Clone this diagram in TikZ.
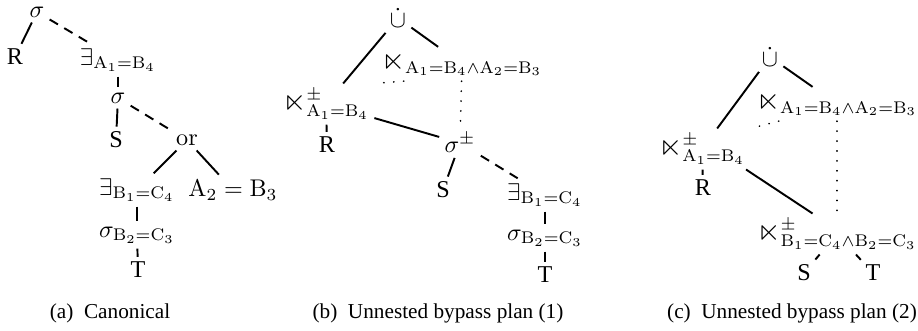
\documentclass[tikz,border=0pt]{standalone}
\usepackage{amsmath}
\usepackage{amssymb}
\usepackage{graphicx}
\usepackage[no-math]{fontspec}
\setmainfont{Liberation Serif}
\usepackage{tikz}
\usetikzlibrary{positioning, calc}
\tikzset{
  opnode/.style={inner sep=2pt, font=\normalsize},
  relnode/.style={inner sep=2pt, font=\normalsize},
  capnode/.style={inner sep=0pt, font=\fontsize{8.8}{10}\selectfont},
  treeedge/.style={thick, color=black},
  dashedge/.style={thick, dash pattern=on 4pt off 3pt},
  dotedge/.style={line width=0.7pt, dash pattern=on 0.1pt off 4pt, line cap=round}
}
\newcommand{\ra}[1]{\mathrm{#1}}
\newcommand{\sjoin}{\mathord{\scalebox{1.25}{$\ltimes$}}}

\begin{document}
\begin{tikzpicture}[x=0.414pt, y=-0.414pt]
  \useasboundingbox (0,0) rectangle (918,331);
  % (a) Canonical
  \node[opnode] (sa) at (37,12) {$\sigma$};
  \node[relnode] (ra) at (15,57) {R};
  \node[opnode] (exa) at (118,60) {$\exists_{\ra{A}_1=\ra{B}_4}$};
  \node[opnode] (sa2) at (118,98) {$\sigma$};
  \node[relnode] (Sa) at (116,140) {S};
  \node[opnode] (ora) at (187,140) {$\mathrm{or}$};
  \node[opnode] (exb) at (137,190) {$\exists_{\ra{B}_1=\ra{C}_4}$};
  \node[opnode] (eqa) at (233,190) {$\ra{A}_2=\ra{B}_3$};
  \node[opnode] (sb) at (137,235) {$\sigma_{\ra{B}_2=\ra{C}_3}$};
  \node[relnode] (Ta) at (138,270) {T};
  \draw[treeedge] (sa) -- (ra);
  \draw[dashedge] (sa) -- (exa);
  \draw[treeedge] (exa) -- (sa2);
  \draw[treeedge] (sa2) -- (Sa);
  \draw[dashedge] (sa2) -- (ora);
  \draw[treeedge] (ora) -- (exb);
  \draw[treeedge] (ora) -- (eqa);
  \draw[treeedge] (exb) -- (sb);
  \draw[treeedge] (sb) -- (Ta);
  \node[capnode] (capa) at (110,313) {(a)\enspace Canonical};

  % (b) Unnested bypass plan (1)
  \node[opnode] (cupb) at (398,18) {$\dot\cup$};
  \node[opnode] (sjb) at (462,64) {$\sjoin_{\ra{A}_1=\ra{B}_4\wedge\ra{A}_2=\ra{B}_3}$};
  \node[opnode] (sjpb) at (326,104) {$\sjoin^{\pm}_{\ra{A}_1=\ra{B}_4}$};
  \node[relnode] (Rb) at (327,145) {R};
  \node[opnode] (sgb) at (460,143) {$\sigma^{\pm}$};
  \node[relnode] (Sb) at (443,190) {S};
  \node[opnode] (exbb) at (545,195) {$\exists_{\ra{B}_1=\ra{C}_4}$};
  \node[opnode] (sbb) at (545,238) {$\sigma_{\ra{B}_2=\ra{C}_3}$};
  \node[relnode] (Tb) at (545,275) {T};
  \draw[treeedge] (cupb) -- (sjpb);
  \draw[treeedge] (cupb) -- (sjb);
  \draw[dotedge] ($(sjb.south west)!0.16!(sjb.south east)$) -- (sjpb.north east);
  \draw[dotedge] (sjb) -- (sgb);
  \draw[treeedge] (sjpb) -- (sgb);
  \draw[treeedge] (sjpb) -- (Rb);
  \draw[treeedge] (sgb) -- (Sb);
  \draw[dashedge] (sgb) -- (exbb);
  \draw[treeedge] (exbb) -- (sbb);
  \draw[treeedge] (sbb) -- (Tb);
  \node[capnode] (capb) at (438,313) {(b)\enspace Unnested bypass plan (1)};

  % (c) Unnested bypass plan (2)
  \node[opnode] (cupc) at (770,57) {$\dot\cup$};
  \node[opnode] (sjc) at (837,104) {$\sjoin_{\ra{A}_1=\ra{B}_4\wedge\ra{A}_2=\ra{B}_3}$};
  \node[opnode] (sjpc) at (702,149) {$\sjoin^{\pm}_{\ra{A}_1=\ra{B}_4}$};
  \node[relnode] (Rc) at (703,188) {R};
  \node[opnode] (sjbc) at (837,234) {$\sjoin^{\pm}_{\ra{B}_1=\ra{C}_4\wedge\ra{B}_2=\ra{C}_3}$};
  \node[relnode] (Sc) at (804,273) {S};
  \node[relnode] (Tc) at (873,273) {T};
  \draw[treeedge] (cupc) -- (sjpc);
  \draw[treeedge] (cupc) -- (sjc);
  \draw[dotedge] ($(sjc.south west)!0.16!(sjc.south east)$) -- (sjpc.north east);
  \draw[dotedge] (sjc) -- (sjbc);
  \draw[treeedge] (sjpc.-25) -- (sjbc.140);
  \draw[treeedge] (sjpc) -- (Rc);
  \draw[treeedge] (sjbc) -- (Sc);
  \draw[treeedge] (sjbc) -- (Tc);
  \node[capnode] (capc) at (792,313) {(c)\enspace Unnested bypass plan (2)};
\end{tikzpicture}
\end{document}
